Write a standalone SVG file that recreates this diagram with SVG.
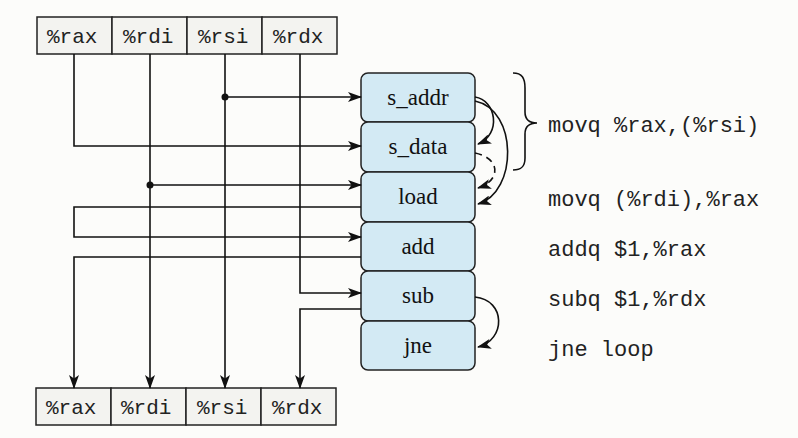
<svg xmlns="http://www.w3.org/2000/svg" width="798" height="438" viewBox="0 0 798 438">
<style>
.reg{fill:#f3f3f0;stroke:#222;stroke-width:1.5}
.op{fill:#d3eaf4;stroke:#222;stroke-width:1.5}
.mono{font-family:"Liberation Mono",monospace;font-size:21px;fill:#222}
.ins{font-size:22px}
.serif{font-family:"Liberation Serif",serif;font-size:23px;fill:#111;text-anchor:middle}
.ln{fill:none;stroke:#111;stroke-width:1.6}
.dash{stroke-dasharray:7 5}
</style>
<defs>
<marker id="ah" markerWidth="14" markerHeight="10" refX="13" refY="5" orient="auto" markerUnits="userSpaceOnUse">
<path d="M0,0 L14,5 L0,10 L3.5,5 z" fill="#111"/>
</marker>
</defs>
<rect width="798" height="438" fill="#fcfcfa"/>
<g id="top-registers">
<rect class="reg" x="37" y="17" width="75" height="37"/>
<rect class="reg" x="112" y="17" width="75" height="37"/>
<rect class="reg" x="187" y="17" width="75" height="37"/>
<rect class="reg" x="262" y="17" width="75" height="37"/>
<text class="mono" x="47" y="43">%rax</text>
<text class="mono" x="123" y="43">%rdi</text>
<text class="mono" x="198" y="43">%rsi</text>
<text class="mono" x="273" y="43">%rdx</text>
</g>
<g id="bottom-registers">
<rect class="reg" x="36" y="388" width="75" height="37"/>
<rect class="reg" x="111" y="388" width="75" height="37"/>
<rect class="reg" x="186" y="388" width="75" height="37"/>
<rect class="reg" x="261" y="388" width="75" height="37"/>
<text class="mono" x="46" y="414">%rax</text>
<text class="mono" x="121" y="414">%rdi</text>
<text class="mono" x="197" y="414">%rsi</text>
<text class="mono" x="272" y="414">%rdx</text>
</g>
<g id="s_addr"><rect class="op" x="361" y="73" width="114" height="49" rx="7"/><text class="serif" x="418" y="105">s_addr</text></g>
<g id="s_data"><rect class="op" x="361" y="122" width="114" height="50" rx="7"/><text class="serif" x="418" y="154">s_data</text></g>
<g id="load"><rect class="op" x="361" y="172" width="114" height="50" rx="7"/><text class="serif" x="418" y="204">load</text></g>
<g id="add"><rect class="op" x="361" y="222" width="114" height="49" rx="7"/><text class="serif" x="418" y="254">add</text></g>
<g id="sub"><rect class="op" x="361" y="271" width="114" height="50" rx="7"/><text class="serif" x="418" y="303">sub</text></g>
<g id="jne"><rect class="op" x="361" y="321" width="114" height="49" rx="7"/><text class="serif" x="418" y="353">jne</text></g>
<g id="connectors">
<path class="ln" d="M225,54 V388" marker-end="url(#ah)"/>
<path class="ln" d="M225,97 H361" marker-end="url(#ah)"/>
<circle cx="225" cy="97" r="3.5" fill="#111"/>
<path class="ln" d="M74,54 V146 H361" marker-end="url(#ah)"/>
<path class="ln" d="M150,54 V388" marker-end="url(#ah)"/>
<path class="ln" d="M150,185 H361" marker-end="url(#ah)"/>
<circle cx="150" cy="185" r="3.5" fill="#111"/>
<path class="ln" d="M300,54 V293 H361" marker-end="url(#ah)"/>
<path class="ln" d="M361,207 H74 V237 H361" marker-end="url(#ah)"/>
<path class="ln" d="M361,257 H74 V388" marker-end="url(#ah)"/>
<path class="ln" d="M361,309 H300 V388" marker-end="url(#ah)"/>
<path class="ln" d="M475,97 C496,100 502,134 478,144" marker-end="url(#ah)"/>
<path class="ln" d="M475,101 C518,110 518,192 478,204" marker-end="url(#ah)"/>
<path class="ln dash" d="M475,153 C500,158 502,180 478,188" marker-end="url(#ah)"/>
<path class="ln" d="M475,297 C506,300 506,340 478,347" marker-end="url(#ah)"/>
</g>
<g id="brace">
<path class="ln" d="M513,73 C522,73 525,78 525,88 V112 C525,119 529,123 537,123 C529,123 525,127 525,134 V158 C525,166 522,170 513,170"/>
</g>
<g id="instructions">
<text class="mono ins" x="548" y="132">movq %rax,(%rsi)</text>
<text class="mono ins" x="548" y="206">movq (%rdi),%rax</text>
<text class="mono ins" x="548" y="256">addq $1,%rax</text>
<text class="mono ins" x="548" y="306">subq $1,%rdx</text>
<text class="mono ins" x="548" y="356">jne loop</text>
</g>
</svg>
